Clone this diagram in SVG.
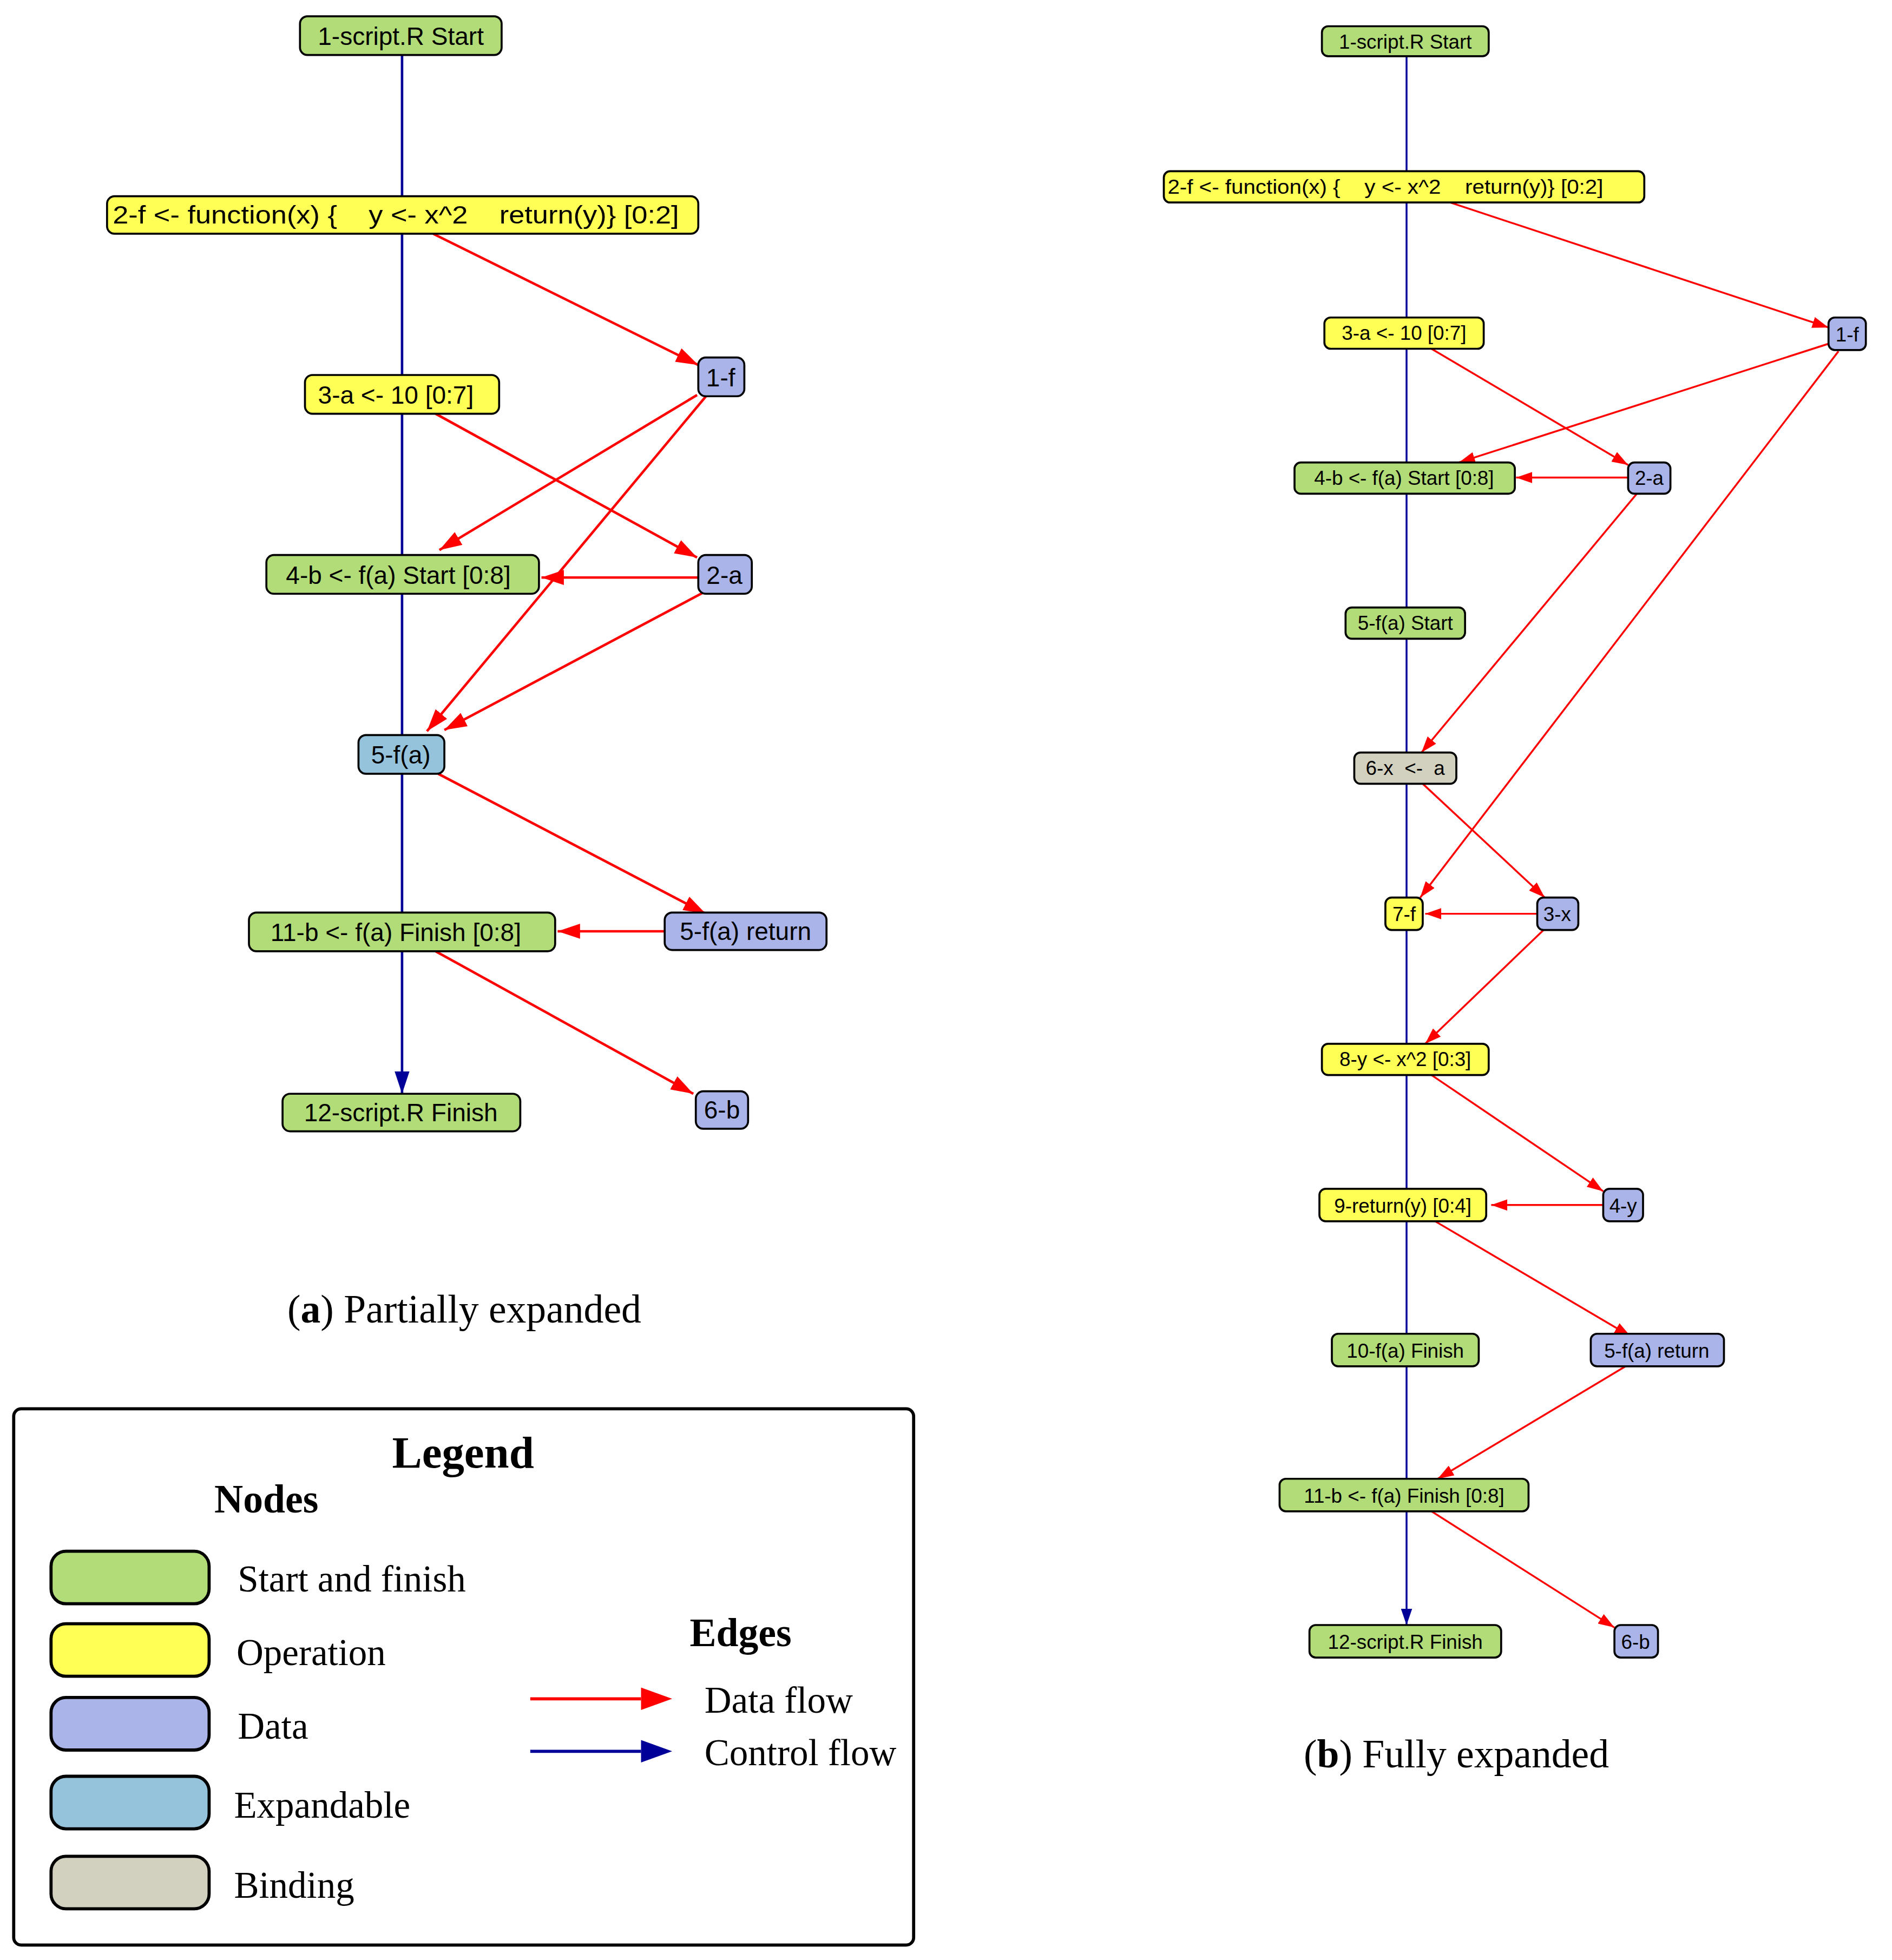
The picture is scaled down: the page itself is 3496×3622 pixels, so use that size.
<svg xmlns="http://www.w3.org/2000/svg" width="3496" height="3622" viewBox="0 0 3496 3622">
<style>
.n rect{stroke:#000;stroke-width:1.6}
.sf{fill:#B2DC78}.op{fill:#FFFF55}.da{fill:#AAB4E8}.ex{fill:#96C3DC}.bi{fill:#D2D0BE}
.n text{font-family:"Liberation Sans",Arial,sans-serif;fill:#000;text-anchor:middle}
.L text{font-size:20px}.R text{font-size:16px}
.c{stroke:#000099;fill:none}.d{stroke:#FF0000;fill:none}
.L .c,.L .d{stroke-width:2}.R .c,.R .d{stroke-width:1.5}
.s{font-family:"Liberation Serif","Times New Roman",serif;fill:#000}
</style>
<defs>
<marker id="cb" markerUnits="userSpaceOnUse" markerWidth="18" markerHeight="12" refX="18" refY="6" orient="auto"><path d="M0,0L18,6L0,12z" fill="#000099"/></marker>
<marker id="db" markerUnits="userSpaceOnUse" markerWidth="18" markerHeight="12" refX="18" refY="6" orient="auto"><path d="M0,0L18,6L0,12z" fill="#FF0000"/></marker>
<marker id="cs" markerUnits="userSpaceOnUse" markerWidth="13" markerHeight="9" refX="13" refY="4.5" orient="auto"><path d="M0,0L13,4.5L0,9z" fill="#000099"/></marker>
<marker id="ds" markerUnits="userSpaceOnUse" markerWidth="13" markerHeight="9" refX="13" refY="4.5" orient="auto"><path d="M0,0L13,4.5L0,9z" fill="#FF0000"/></marker>
</defs>
<g transform="scale(2.3 2.31)">
<g id="connectors">
<g class="L">
<path class="c" marker-end="url(#cb)" d="M323,44V157M323,187V300M323,331V444M323,475V588M323,619V730M323,761V875"/>
<g class="d" marker-end="url(#db)">
<path d="M348,187L561,292"/><path d="M560,316L353,440"/><path d="M568,316L343,585"/>
<path d="M350,331L560,446"/><path d="M561,462L435,462"/><path d="M565,474L357,584"/>
<path d="M352,619L567,731"/><path d="M534,745L448,745"/><path d="M350,761L557,875"/>
</g>
</g>
<g class="R">
<path class="c" marker-end="url(#cs)" d="M1130,45V137M1130,162V254M1130,279V370M1130,395V486M1130,511V602M1130,627V718M1130,744V835M1130,860V951M1130,977V1067M1130,1093V1183M1130,1209V1300"/>
<g class="d" marker-end="url(#ds)">
<path d="M1165,162L1469,262"/><path d="M1469,275L1172,370"/><path d="M1477,281L1141,718"/>
<path d="M1150,279L1308,372"/><path d="M1308,382L1218,382"/><path d="M1315,395L1142,602"/>
<path d="M1143,627L1241,718"/><path d="M1235,731L1145,731"/><path d="M1240,744L1145,835"/>
<path d="M1150,860L1288,953"/><path d="M1288,964L1198,964"/><path d="M1153,977L1310,1069"/>
<path d="M1306,1093L1155,1183"/><path d="M1150,1209L1297,1302"/>
</g>
</g>
</g>
<g class="L">
<g id="a1" class="n"><rect class="sf" x="241" y="13" width="162" height="31" rx="6"/><text x="322" y="36">1-script.R Start</text></g>
<g id="a2" class="n"><rect class="op" x="86" y="157" width="475" height="30" rx="6"/><text x="318" y="179" xml:space="preserve" textLength="455" lengthAdjust="spacingAndGlyphs">2-f &lt;- function(x) {    y &lt;- x^2    return(y)} [0:2]</text></g>
<g id="a3" class="n"><rect class="op" x="245" y="300" width="156" height="31" rx="6"/><text x="318" y="323">3-a &lt;- 10 [0:7]</text></g>
<g id="a1f" class="n"><rect class="da" x="561" y="286" width="37" height="31" rx="6"/><text x="579" y="309">1-f</text></g>
<g id="a4" class="n"><rect class="sf" x="214" y="444" width="219" height="31" rx="6"/><text x="320" y="467">4-b &lt;- f(a) Start [0:8]</text></g>
<g id="a2a" class="n"><rect class="da" x="561" y="444" width="43" height="31" rx="6"/><text x="582" y="467">2-a</text></g>
<g id="a5" class="n"><rect class="ex" x="288" y="588" width="69" height="31" rx="6"/><text x="322" y="611">5-f(a)</text></g>
<g id="a11" class="n"><rect class="sf" x="200" y="730" width="246" height="31" rx="6"/><text x="318" y="753">11-b &lt;- f(a) Finish [0:8]</text></g>
<g id="a5r" class="n"><rect class="da" x="534" y="730" width="130" height="30" rx="6"/><text x="599" y="752">5-f(a) return</text></g>
<g id="a12" class="n"><rect class="sf" x="227" y="875" width="191" height="30" rx="6"/><text x="322" y="897">12-script.R Finish</text></g>
<g id="a6b" class="n"><rect class="da" x="559" y="873" width="42" height="30" rx="6"/><text x="580" y="895">6-b</text></g>
</g>
<g class="R">
<g id="b1" class="n"><rect class="sf" x="1062" y="21" width="134" height="24" rx="5"/><text x="1129" y="39">1-script.R Start</text></g>
<g id="b2" class="n"><rect class="op" x="935" y="137" width="386" height="25" rx="5"/><text x="1113" y="155" xml:space="preserve" textLength="350" lengthAdjust="spacingAndGlyphs">2-f &lt;- function(x) {    y &lt;- x^2    return(y)} [0:2]</text></g>
<g id="b3" class="n"><rect class="op" x="1064" y="254" width="128" height="25" rx="5"/><text x="1128" y="272">3-a &lt;- 10 [0:7]</text></g>
<g id="b1f" class="n"><rect class="da" x="1469" y="254" width="30" height="26" rx="5"/><text x="1484" y="273">1-f</text></g>
<g id="b4" class="n"><rect class="sf" x="1040" y="370" width="177" height="25" rx="5"/><text x="1128" y="388">4-b &lt;- f(a) Start [0:8]</text></g>
<g id="b2a" class="n"><rect class="da" x="1308" y="370" width="34" height="25" rx="5"/><text x="1325" y="388">2-a</text></g>
<g id="b5" class="n"><rect class="sf" x="1081" y="486" width="96" height="25" rx="5"/><text x="1129" y="504">5-f(a) Start</text></g>
<g id="b6" class="n"><rect class="bi" x="1088" y="602" width="82" height="25" rx="5"/><text x="1129" y="620" xml:space="preserve">6-x  &lt;-  a</text></g>
<g id="b7" class="n"><rect class="op" x="1113" y="718" width="30" height="26" rx="5"/><text x="1128" y="737">7-f</text></g>
<g id="b3x" class="n"><rect class="da" x="1235" y="718" width="33" height="26" rx="5"/><text x="1251" y="737">3-x</text></g>
<g id="b8" class="n"><rect class="op" x="1062" y="835" width="134" height="25" rx="5"/><text x="1129" y="853">8-y &lt;- x^2 [0:3]</text></g>
<g id="b4y" class="n"><rect class="da" x="1288" y="951" width="32" height="26" rx="5"/><text x="1304" y="970">4-y</text></g>
<g id="b9" class="n"><rect class="op" x="1060" y="951" width="134" height="26" rx="5"/><text x="1127" y="970">9-return(y) [0:4]</text></g>
<g id="b10" class="n"><rect class="sf" x="1070" y="1067" width="118" height="26" rx="5"/><text x="1129" y="1086">10-f(a) Finish</text></g>
<g id="b5r" class="n"><rect class="da" x="1278" y="1067" width="107" height="26" rx="5"/><text x="1331" y="1086">5-f(a) return</text></g>
<g id="b11" class="n"><rect class="sf" x="1028" y="1183" width="200" height="26" rx="5"/><text x="1128" y="1202">11-b &lt;- f(a) Finish [0:8]</text></g>
<g id="b12" class="n"><rect class="sf" x="1052" y="1300" width="154" height="26" rx="5"/><text x="1129" y="1319">12-script.R Finish</text></g>
<g id="b6b" class="n"><rect class="da" x="1297" y="1300" width="35" height="26" rx="5"/><text x="1314" y="1319">6-b</text></g>
</g>
<text class="s" x="373" y="1058" font-size="32" text-anchor="middle">(<tspan font-weight="bold">a</tspan>) Partially expanded</text>
<text class="s" x="1170" y="1414" font-size="32" text-anchor="middle">(<tspan font-weight="bold">b</tspan>) Fully expanded</text>
<g id="legend">
<rect x="11" y="1127" width="723" height="429" rx="6" fill="#fff" stroke="#000" stroke-width="2.5"/>
<text class="s" x="372" y="1174" font-size="36" font-weight="bold" text-anchor="middle">Legend</text>
<text class="s" x="214" y="1210" font-size="32" font-weight="bold" text-anchor="middle">Nodes</text>
<g stroke="#000" stroke-width="2.5">
<rect class="sf" x="41" y="1241" width="127" height="42" rx="12"/>
<rect class="op" x="41" y="1299" width="127" height="42" rx="12"/>
<rect class="da" x="41" y="1358" width="127" height="42" rx="12"/>
<rect class="ex" x="41" y="1421" width="127" height="42" rx="12"/>
<rect class="bi" x="41" y="1485" width="127" height="42" rx="12"/>
</g>
<g class="s" font-size="30">
<text x="191" y="1273">Start and finish</text>
<text x="190" y="1332">Operation</text>
<text x="191" y="1391">Data</text>
<text x="188" y="1454">Expandable</text>
<text x="188" y="1518">Binding</text>
<text x="566" y="1370">Data flow</text>
<text x="566" y="1412">Control flow</text>
</g>
<text class="s" x="595" y="1317" font-size="32" font-weight="bold" text-anchor="middle">Edges</text>
<path d="M426,1359H515" stroke="#FF0000" stroke-width="2.5"/><path d="M515,1350L540,1359L515,1368z" fill="#FF0000"/>
<path d="M426,1401H515" stroke="#000099" stroke-width="2.5"/><path d="M515,1392L540,1401L515,1410z" fill="#000099"/>
</g>
</g>
</svg>
